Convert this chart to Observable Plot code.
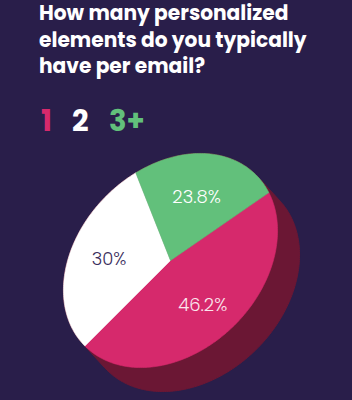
<!DOCTYPE html>
<html><head><meta charset="utf-8">
<script src="https://cdn.jsdelivr.net/npm/d3@7"></script>
<script src="https://cdn.jsdelivr.net/npm/@observablehq/plot@0.6"></script>
<style>
html,body{margin:0;padding:0;background:#291e4a;}
#wrap{width:352px;height:400px;position:relative;overflow:hidden;background:#291e4a;font-family:Poppins,"Inter","Open Sans",sans-serif;}
#title{position:absolute;left:39px;top:0px;width:313px;color:#fff;font-weight:700;font-size:20.2px;line-height:26.5px;margin:0;white-space:nowrap;}
#legend{position:absolute;left:41px;top:101px;font-weight:700;font-size:29px;line-height:40px;white-space:nowrap;}
#legend span{position:absolute;top:0;}
#chart{position:absolute;left:0;top:150px;}
</style></head>
<body>
<div id="wrap">
  <div id="title">How many personalized<br>elements do you typically<br>have per email?</div>
  <div id="legend"></div>
  <div id="chart"></div>
</div>
<script>
const categories = ["1", "2", "3+"];
const shares = [46.2, 30, 23.8];
const labels = ["46.2%", "30%", "23.8%"];
const sliceColors = ["#d6296c", "#ffffff", "#62c07b"];
const labelColors = ["#fbe6ee", "#3a2d5c", "#ffffff"];

// legend
const legend = document.getElementById("legend");
const legendLeft = [0, 31, 68];
categories.forEach((c, i) => {
  const s = document.createElement("span");
  s.textContent = c;
  s.style.color = sliceColors[i];
  s.style.left = legendLeft[i] + "px";
  legend.appendChild(s);
});

// geometry of the tilted disc (layout)
const cx = 170, cy = 110, ra = 121, rb = 91, rot = -45 * Math.PI / 180;
const dx = 22, dy = 24, startDeg = 13.7, labelR = 0.6;
function project(phiDeg, r = 1, ox = 0, oy = 0) {
  const p = phiDeg * Math.PI / 180;
  const u = ra * r * Math.cos(p), v = rb * r * Math.sin(p);
  return {x: cx + ox + u * Math.cos(rot) - v * Math.sin(rot),
          y: cy + oy + u * Math.sin(rot) + v * Math.cos(rot)};
}

const total = d3.sum(shares);
let cum = 0;
const slicePts = [];
const labelData = [];
shares.forEach((v, i) => {
  const a0 = startDeg + cum / total * 360;
  cum += v;
  const a1 = startDeg + cum / total * 360;
  slicePts.push({cat: categories[i], ...project(0, 0)});
  const n = Math.ceil(a1 - a0);
  for (let k = 0; k <= n; k++) slicePts.push({cat: categories[i], ...project(a0 + (a1 - a0) * k / n)});
  slicePts.push({cat: categories[i], ...project(0, 0)});
  labelData.push({text: labels[i], color: labelColors[i], ...project((a0 + a1) / 2, labelR)});
});

const rim = [];
for (let p = 0; p < 360; p += 1) {
  const t = project(p), b = project(p, 1, dx, dy);
  rim.push([t.x, t.y], [b.x, b.y]);
}
const hull = d3.polygonHull(rim).map(([x, y]) => ({x, y}));
hull.push(hull[0]);

const chart = Plot.plot({
  width: 352,
  height: 250,
  margin: 0,
  style: {background: "transparent"},
  x: {domain: [0, 352], axis: null},
  y: {domain: [250, 0], axis: null},
  color: {domain: categories, range: sliceColors},
  marks: [
    Plot.line(hull, {x: "x", y: "y", fill: "#6b1734", stroke: "#6b1734", strokeWidth: 1}),
    Plot.line(slicePts, {x: "x", y: "y", z: "cat", fill: "cat", stroke: "cat", strokeWidth: 0.6}),
    ...labelData.map(d => Plot.text([d], {x: "x", y: "y", text: "text", fill: d.color,
      fontSize: 18, fontWeight: 300, fontFamily: "Poppins, Lato, Inter, sans-serif"}))
  ]
});
document.getElementById("chart").appendChild(chart);
</script>
</body></html>
